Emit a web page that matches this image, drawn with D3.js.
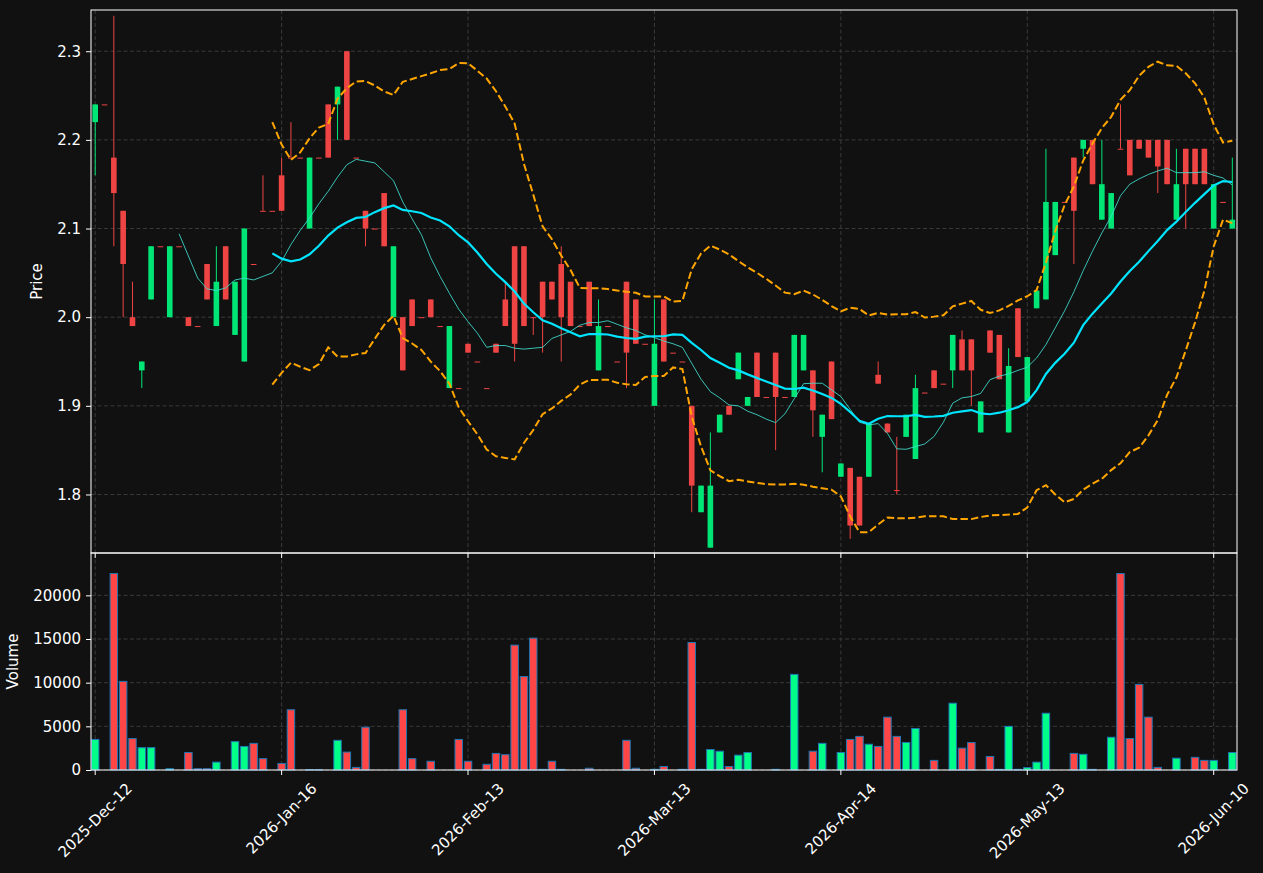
<!DOCTYPE html>
<html>
<head>
<meta charset="utf-8">
<script src="https://cdn.jsdelivr.net/npm/d3@7"></script>
<style>
  html, body { margin: 0; padding: 0; background: #111111; }
  svg { display: block; font-family: "DejaVu Sans", sans-serif; }
</style>
</head>
<body>
<div id="chart"></div>
<script>
// daily OHLC + volume, one entry per trading session (index based x axis)
const opens = [
  2.22, 2.24, 2.18, 2.12, 2.00, 1.94, 2.02, 2.08, 2.00, 2.08,
  2.00, 1.99, 2.06, 1.99, 2.08, 1.98, 1.95, 2.06, 2.12, 2.12,
  2.16, 2.18, 2.18, 2.10, 2.18, 2.24, 2.24, 2.30, 2.18, 2.12,
  2.10, 2.14, 2.00, 2.00, 2.02, 2.00, 2.02, 1.99, 1.92, 1.92,
  1.97, 1.95, 1.92, 1.97, 2.02, 2.08, 2.08, 2.00, 2.04, 2.04,
  2.06, 2.04, 1.99, 2.04, 1.94, 1.99, 1.95, 2.04, 2.02, 1.97,
  1.90, 2.02, 1.96, 1.95, 1.90, 1.78, 1.74, 1.87, 1.90, 1.93,
  1.90, 1.96, 1.91, 1.96, 1.91, 1.91, 1.94, 1.94, 1.865, 1.95,
  1.82, 1.83, 1.82, 1.82, 1.935, 1.88, 1.805, 1.865, 1.84, 1.915,
  1.94, 1.925, 1.94, 1.975, 1.975, 1.87, 1.985, 1.98, 1.87, 2.01,
  1.905, 2.01, 2.02, 2.07, 2.13, 2.18, 2.19, 2.20, 2.11, 2.10,
  2.19, 2.20, 2.20, 2.20, 2.20, 2.20, 2.11, 2.19, 2.19, 2.19,
  2.10, 2.13, 2.10
];
const highs = [
  2.24, 2.24, 2.34, 2.12, 2.04, 1.95, 2.08, 2.08, 2.08, 2.08,
  2.00, 1.99, 2.06, 2.08, 2.08, 2.04, 2.10, 2.06, 2.16, 2.12,
  2.18, 2.22, 2.18, 2.18, 2.18, 2.24, 2.26, 2.30, 2.18, 2.12,
  2.10, 2.14, 2.08, 2.00, 2.02, 2.00, 2.02, 1.99, 1.99, 1.92,
  1.97, 1.95, 1.92, 1.97, 2.04, 2.08, 2.08, 2.00, 2.04, 2.04,
  2.08, 2.04, 1.99, 2.04, 2.02, 1.99, 1.95, 2.04, 2.02, 1.97,
  2.02, 2.02, 1.96, 1.95, 1.90, 1.81, 1.87, 1.89, 1.90, 1.96,
  1.91, 1.96, 1.91, 1.96, 1.91, 1.98, 1.98, 1.94, 1.89, 1.95,
  1.835, 1.83, 1.82, 1.88, 1.95, 1.88, 1.865, 1.89, 1.935, 1.915,
  1.94, 1.925, 1.98, 1.985, 1.975, 1.905, 1.985, 1.98, 1.965, 2.01,
  1.955, 2.03, 2.19, 2.13, 2.13, 2.18, 2.20, 2.20, 2.20, 2.14,
  2.24, 2.20, 2.20, 2.20, 2.20, 2.20, 2.19, 2.19, 2.19, 2.19,
  2.15, 2.13, 2.18
];
const lows = [
  2.16, 2.24, 2.08, 2.00, 1.99, 1.92, 2.02, 2.08, 2.00, 2.08,
  1.99, 1.99, 2.02, 1.99, 2.02, 1.98, 1.95, 2.06, 2.12, 2.12,
  2.12, 2.18, 2.18, 2.10, 2.18, 2.18, 2.20, 2.20, 2.18, 2.08,
  2.10, 2.08, 2.00, 1.94, 1.99, 2.00, 2.00, 1.99, 1.92, 1.92,
  1.96, 1.95, 1.92, 1.96, 1.99, 1.95, 1.99, 1.98, 1.96, 2.02,
  1.95, 1.99, 1.99, 1.99, 1.94, 1.99, 1.95, 1.92, 1.97, 1.97,
  1.90, 1.95, 1.96, 1.95, 1.78, 1.78, 1.74, 1.87, 1.89, 1.93,
  1.90, 1.91, 1.91, 1.85, 1.91, 1.91, 1.94, 1.865, 1.825, 1.885,
  1.82, 1.75, 1.765, 1.82, 1.925, 1.87, 1.80, 1.865, 1.84, 1.915,
  1.92, 1.925, 1.92, 1.94, 1.90, 1.87, 1.96, 1.93, 1.87, 1.955,
  1.905, 2.01, 2.02, 2.07, 2.13, 2.06, 2.18, 2.15, 2.11, 2.10,
  2.19, 2.16, 2.19, 2.18, 2.14, 2.15, 2.11, 2.10, 2.15, 2.15,
  2.10, 2.13, 2.10
];
const closes = [
  2.24, 2.24, 2.14, 2.06, 1.99, 1.95, 2.08, 2.08, 2.08, 2.08,
  1.99, 1.99, 2.02, 2.04, 2.02, 2.04, 2.10, 2.06, 2.12, 2.12,
  2.12, 2.18, 2.18, 2.18, 2.18, 2.18, 2.26, 2.20, 2.18, 2.10,
  2.10, 2.08, 2.08, 1.94, 1.99, 2.00, 2.00, 1.99, 1.99, 1.92,
  1.96, 1.95, 1.92, 1.96, 1.99, 1.97, 1.99, 2.00, 2.00, 2.02,
  2.00, 1.99, 1.99, 1.99, 1.99, 1.99, 1.95, 1.96, 1.97, 1.97,
  1.97, 1.95, 1.96, 1.95, 1.81, 1.81, 1.81, 1.89, 1.89, 1.96,
  1.91, 1.91, 1.91, 1.91, 1.91, 1.98, 1.98, 1.895, 1.89, 1.885,
  1.835, 1.765, 1.765, 1.88, 1.925, 1.87, 1.805, 1.89, 1.92, 1.915,
  1.92, 1.925, 1.98, 1.94, 1.94, 1.905, 1.96, 1.93, 1.945, 1.955,
  1.955, 2.03, 2.13, 2.13, 2.13, 2.12, 2.20, 2.15, 2.15, 2.14,
  2.19, 2.16, 2.19, 2.18, 2.17, 2.15, 2.15, 2.15, 2.15, 2.15,
  2.15, 2.13, 2.11
];
const volumes = [
  3500, 0, 22500, 10150, 3600, 2560, 2560, 0, 150, 0,
  2000, 150, 150, 900, 0, 3250, 2700, 3050, 1300, 0,
  750, 6900, 0, 50, 50, 0, 3400, 2050, 300, 4900,
  0, 0, 0, 6900, 1300, 0, 1000, 0, 0, 3500,
  1000, 0, 650, 1900, 1750, 14300, 10700, 15100, 75, 1000,
  75, 0, 0, 200, 0, 0, 0, 3400, 200, 0,
  75, 400, 0, 75, 14600, 75, 2350, 2150, 400, 1700,
  2000, 0, 0, 75, 0, 10950, 0, 2150, 3050, 0,
  2000, 3500, 3850, 2950, 2700, 6050, 3850, 3150, 4750, 0,
  1100, 0, 7650, 2500, 3150, 0, 1550, 75, 5000, 75,
  270, 900, 6500, 0, 0, 1900, 1800, 75, 0, 3750,
  22500, 3600, 9800, 6050, 300, 0, 1350, 0, 1450, 1100,
  1100, 0, 2000
];

const tickIndex  = [0, 20, 40, 60, 80, 100, 120];
const tickLabels = ['2025-Dec-12', '2026-Jan-16', '2026-Feb-13', '2026-Mar-13', '2026-Apr-14', '2026-May-13', '2026-Jun-10'];
const priceTicks  = [1.8, 1.9, 2.0, 2.1, 2.2, 2.3];
const volumeTicks = [0, 5000, 10000, 15000, 20000];

const W = 1263, H = 873;
const left = 91, right = 1237;
const mainTop = 10, mainBottom = 553;
const volTop = 553, volBottom = 770;
const fontSize = '15px';

const C = {
  bg: '#111111', grid: '#3a3a3a', text: '#ffffff',
  up: '#00e676', down: '#ef4444',
  volUp: '#00ff88', volDown: '#ff4646', volEdge: '#1f77b4',
  ma20: '#00e5ff', ma10: '#40e0d0', bb: '#ffa500'
};

const n = closes.length;
const rows = d3.range(n).map(i => ({
  i, o: opens[i], h: highs[i], l: lows[i], c: closes[i], v: volumes[i]
}));

// rolling mean / population std of the closes
function rolling(win, fn) {
  return d3.range(n).map(i => i < win - 1 ? null : fn(closes.slice(i - win + 1, i + 1)));
}
const popStd = a => { const m = d3.mean(a); return Math.sqrt(d3.mean(a, v => (v - m) ** 2)); };
const ma10 = rolling(10, d3.mean);
const ma20 = rolling(20, d3.mean);
const sd20 = rolling(20, popStd);
const bbUp = ma20.map((m, i) => m == null ? null : m + 2 * sd20[i]);
const bbLo = ma20.map((m, i) => m == null ? null : m - 2 * sd20[i]);

const x  = d3.scaleLinear().domain([-0.45, n - 0.5]).range([left, right]);
const yP = d3.scaleLinear().domain([1.734, 2.3465]).range([mainBottom, mainTop]);
const yV = d3.scaleLinear().domain([0, 24850]).range([volBottom, volTop]);
const step = x(1) - x(0);

const svg = d3.select('#chart').append('svg')
  .attr('width', W).attr('height', H)
  .attr('viewBox', `0 0 ${W} ${H}`);

svg.append('rect').attr('width', W).attr('height', H).attr('fill', C.bg);

// grids
function hGrid(scale, ticks) {
  svg.append('g').selectAll('line').data(ticks).join('line')
    .attr('x1', left).attr('x2', right)
    .attr('y1', d => scale(d)).attr('y2', d => scale(d))
    .attr('stroke', C.grid).attr('stroke-width', 1).attr('stroke-dasharray', '4,2.5');
}
function vGrid(y0, y1) {
  svg.append('g').selectAll('line').data(tickIndex).join('line')
    .attr('x1', d => x(d)).attr('x2', d => x(d))
    .attr('y1', y0).attr('y2', y1)
    .attr('stroke', C.grid).attr('stroke-width', 1).attr('stroke-dasharray', '4,2.5');
}
hGrid(yP, priceTicks); vGrid(mainTop, mainBottom);
hGrid(yV, volumeTicks); vGrid(volTop, volBottom);

// candles
const candles = svg.append('g').selectAll('g').data(rows).join('g');
const col = d => d.c > d.o ? C.up : C.down;
candles.append('line')
  .attr('x1', d => x(d.i)).attr('x2', d => x(d.i))
  .attr('y1', d => yP(d.h)).attr('y2', d => yP(d.l))
  .attr('stroke', col).attr('stroke-width', 1);
candles.append('rect')
  .attr('x', d => x(d.i) - step * 0.3)
  .attr('width', step * 0.6)
  .attr('y', d => yP(Math.max(d.o, d.c)))
  .attr('height', d => Math.max(1, yP(Math.min(d.o, d.c)) - yP(Math.max(d.o, d.c))))
  .attr('fill', col);

// moving averages and bands
const line = d3.line().defined(d => d != null).x((d, i) => x(i)).y(d => yP(d));
svg.append('path').attr('d', line(bbUp)).attr('fill', 'none')
  .attr('stroke', C.bb).attr('stroke-width', 2).attr('stroke-dasharray', '7.4,3.2');
svg.append('path').attr('d', line(bbLo)).attr('fill', 'none')
  .attr('stroke', C.bb).attr('stroke-width', 2).attr('stroke-dasharray', '7.4,3.2');
svg.append('path').attr('d', line(ma10)).attr('fill', 'none')
  .attr('stroke', C.ma10).attr('stroke-width', 1).attr('opacity', 0.85);
svg.append('path').attr('d', line(ma20)).attr('fill', 'none')
  .attr('stroke', C.ma20).attr('stroke-width', 2.2);

// volume bars
svg.append('g').selectAll('rect').data(rows).join('rect')
  .attr('x', d => x(d.i) - step * 0.4)
  .attr('width', step * 0.8)
  .attr('y', d => yV(d.v))
  .attr('height', d => yV(0) - yV(d.v))
  .attr('fill', d => d.c > d.o ? C.volUp : C.volDown)
  .attr('stroke', C.volEdge).attr('stroke-width', 1);

// y axes
function yAxis(scale, ticks, fmt) {
  const g = svg.append('g').attr('transform', `translate(${left},0)`)
    .call(d3.axisLeft(scale).tickValues(ticks).tickFormat(fmt).tickSize(5).tickPadding(5));
  g.select('.domain').remove();
  g.selectAll('line').attr('stroke', C.text);
  g.selectAll('text').attr('fill', C.text).style('font-size', fontSize)
    .style('font-family', '"DejaVu Sans", sans-serif');
}
yAxis(yP, priceTicks, d3.format('.1f'));
yAxis(yV, volumeTicks, d3.format('d'));

// x ticks on both panels
[mainBottom, volBottom].forEach(yb => {
  svg.append('g').selectAll('line').data(tickIndex).join('line')
    .attr('x1', d => x(d)).attr('x2', d => x(d))
    .attr('y1', yb).attr('y2', yb + 5)
    .attr('stroke', C.text);
});

const xl = svg.append('g').selectAll('text').data(tickIndex).join('text')
  .attr('fill', C.text).attr('text-anchor', 'middle').attr('dominant-baseline', 'central')
  .style('font-size', fontSize)
  .text((d, k) => tickLabels[k]);
xl.attr('transform', function (d) {
  const len = this.getComputedTextLength();
  const cy = volBottom + 10 + (len + 17) * Math.SQRT1_2 / 2;
  return `translate(${x(d)},${cy}) rotate(-45)`;
});

// spines
[[mainTop, mainBottom], [volTop, volBottom]].forEach(([t, b]) => {
  svg.append('rect').attr('x', left).attr('y', t)
    .attr('width', right - left).attr('height', b - t)
    .attr('fill', 'none').attr('stroke', C.text).attr('stroke-width', 1);
});

svg.append('text').attr('transform', `translate(42,${(mainTop + mainBottom) / 2}) rotate(-90)`)
  .attr('text-anchor', 'middle').attr('fill', C.text).style('font-size', fontSize).text('Price');
svg.append('text').attr('transform', `translate(18,${(volTop + volBottom) / 2}) rotate(-90)`)
  .attr('text-anchor', 'middle').attr('fill', C.text).style('font-size', fontSize).text('Volume');
</script>
</body>
</html>
